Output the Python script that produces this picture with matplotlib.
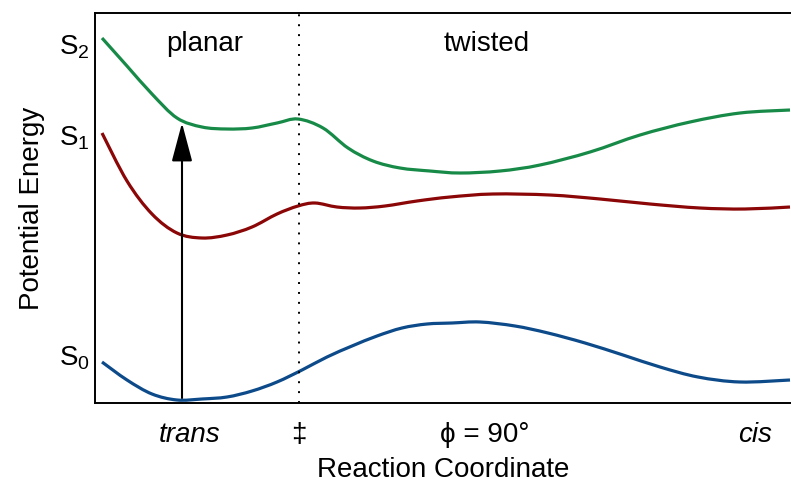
import matplotlib
matplotlib.use("Agg")
import matplotlib.pyplot as plt
from matplotlib.path import Path
from matplotlib.patches import PathPatch

plt.rcParams["font.family"] = ["Liberation Sans", "DejaVu Sans"]
plt.rcParams["mathtext.fontset"] = "custom"
plt.rcParams["mathtext.rm"] = "Liberation Sans"
plt.rcParams["mathtext.it"] = "Liberation Sans:italic"

# reaction coordinate / energy values (arbitrary units)
s2_x = [7, 32, 57, 82, 107, 132, 157, 182, 203, 228, 253, 278, 305, 335, 365, 405, 445, 495, 545,
        595, 645, 695]
s2_y = [365, 337, 309, 285, 276, 274, 275, 280, 284, 275, 255, 242, 235, 232, 230, 232, 238, 251, 268,
        281, 290, 293]

s1_x = [7, 32, 57, 82, 107, 132, 157, 182, 203, 220, 242, 265, 290, 322, 355, 398, 455, 505, 555,
        605, 650, 695]
s1_y = [270, 222, 189, 170, 165, 168, 176, 189, 197, 200, 196, 195, 197, 202, 206, 209, 208, 204, 199,
        195, 194, 196]

s0_x = [7, 32, 57, 82, 107, 132, 157, 182, 207, 232, 257, 282, 307, 332, 357, 385, 420, 453, 490, 528,
        565, 603, 645, 695]
s0_y = [41, 23, 9, 3, 4, 6, 12, 21, 33, 46, 57, 67, 75, 79, 80, 81, 77, 70, 60, 48,
        36, 26, 21, 23]

state_ticks = [48, 268, 359]
state_labels = ["S$_0$", "S$_1$", "S$_2$"]
coord_ticks = [95, 204, 390, 660]
coord_labels = ["trans", "\u2021", "\u03d5 = 90\u00b0", "cis"]

ts_x = 204
excite_x = 87
excite_from = 5
excite_to = 280


def smooth_path(xs, ys):
    # catmull-rom through the read points, drawn as cubic bezier segments
    pts = list(zip(xs, ys))
    verts = [pts[0]]
    codes = [Path.MOVETO]
    n = len(pts)
    for i in range(n - 1):
        p0 = pts[max(i - 1, 0)]
        p1 = pts[i]
        p2 = pts[i + 1]
        p3 = pts[min(i + 2, n - 1)]
        c1 = (p1[0] + (p2[0] - p0[0]) / 6, p1[1] + (p2[1] - p0[1]) / 6)
        c2 = (p2[0] - (p3[0] - p1[0]) / 6, p2[1] - (p3[1] - p1[1]) / 6)
        verts += [c1, c2, p2]
        codes += [Path.CURVE4] * 3
    return Path(verts, codes)


fig = plt.figure(figsize=(7.91, 4.82), dpi=100)
ax = fig.add_axes([0.1201, 0.1639, 0.8799, 0.8091])

for xs, ys, col in ((s2_x, s2_y, "#178a48"), (s1_x, s1_y, "#8b0606"), (s0_x, s0_y, "#0c4a8a")):
    ax.add_patch(PathPatch(smooth_path(xs, ys), facecolor="none", edgecolor=col,
                           lw=2.3, capstyle="butt"))

ax.axvline(ts_x, color="black", lw=1.4, linestyle=(0, (1, 4.1)))

ax.annotate("", xy=(excite_x, excite_to), xytext=(excite_x, excite_from),
            arrowprops=dict(arrowstyle="-|>,head_length=1.2,head_width=0.32",
                            mutation_scale=20, lw=1.5, color="black",
                            shrinkA=0, shrinkB=0))

ax.text(110, 359, "planar", fontsize=20, ha="center", va="center")
ax.text(392, 359, "twisted", fontsize=20, ha="center", va="center")

ax.set_xlim(0, 696)
ax.set_ylim(0, 390)

ax.set_yticks(state_ticks)
ax.set_yticklabels(state_labels, fontsize=20)
ax.set_xticks(coord_ticks)
ax.set_xticklabels(coord_labels, fontsize=20)
for i in (0, 3):
    ax.get_xticklabels()[i].set_style("italic")
ax.tick_params(axis="both", length=0)
ax.tick_params(axis="x", pad=14)
ax.tick_params(axis="y", pad=4)

ax.set_xlabel("Reaction Coordinate", fontsize=20, labelpad=6)
ax.set_ylabel("Potential Energy", fontsize=20, labelpad=10)

for side in ("top", "bottom", "left"):
    ax.spines[side].set_linewidth(1.4)
ax.spines["right"].set_visible(False)

fig.savefig("out.png", dpi=100)
